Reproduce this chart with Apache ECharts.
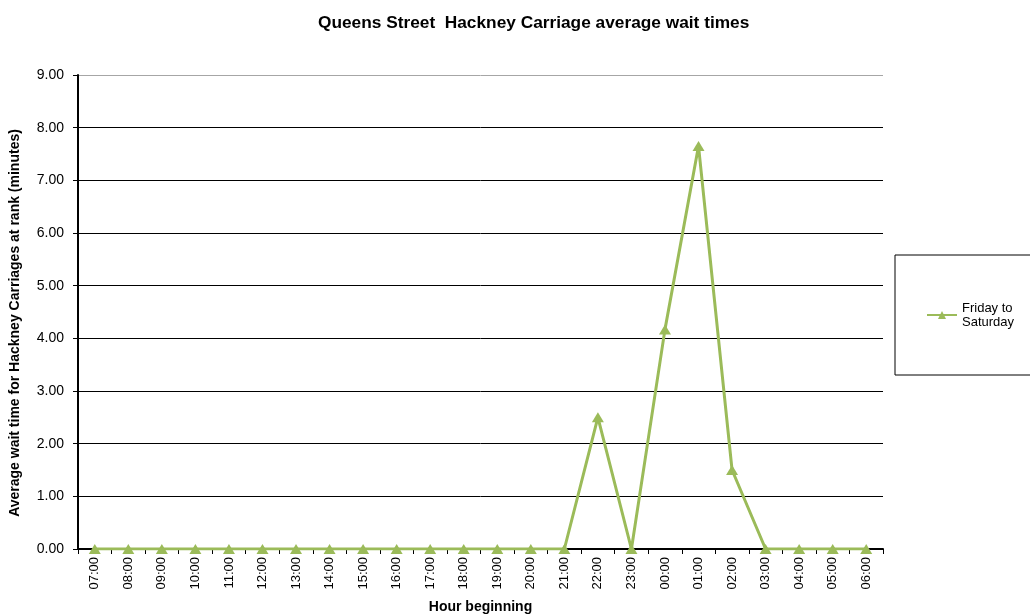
<!DOCTYPE html>
<html>
<head>
<meta charset="utf-8">
<script src="https://cdn.jsdelivr.net/npm/echarts@6/dist/echarts.min.js"></script>
<style>
  html, body { margin: 0; padding: 0; background: #fff; }
  #chart { width: 1030px; height: 616px; }
</style>
</head>
<body>
<div id="chart"></div>
<script>
// hours on the x axis
const hours = ['07:00', '08:00', '09:00', '10:00', '11:00', '12:00', '13:00', '14:00',
  '15:00', '16:00', '17:00', '18:00', '19:00', '20:00', '21:00', '22:00',
  '23:00', '00:00', '01:00', '02:00', '03:00', '04:00', '05:00', '06:00'];

// average wait (minutes), Friday to Saturday
const fridayToSaturday = [0, 0, 0, 0, 0, 0, 0, 0,
  0, 0, 0, 0, 0, 0, 0, 2.5,
  0, 4.17, 7.65, 1.5, 0, 0, 0, 0];

const seriesName = 'Friday to\nSaturday';

const chart = echarts.init(document.getElementById('chart'));
const font = 'Liberation Sans, Arial, sans-serif';

// last grid line (9.00) is grey, the rest black
const gridColors = ['#000', '#000', '#000', '#000', '#000', '#000', '#000', '#000', '#000', '#a6a6a6'];

const option = {
  animation: false,
  textStyle: { fontFamily: font },
  title: {
    text: 'Queens Street  Hackney Carriage average wait times',
    left: 313,
    top: 10,
    textStyle: { fontSize: 17.3, fontWeight: 'bold', color: '#000', fontFamily: font }
  },
  legend: {
    left: 895,
    top: 255,
    orient: 'vertical',
    padding: [46, 40, 46, 31],
    borderColor: '#000',
    borderWidth: 1,
    itemWidth: 30,
    itemHeight: 10,
    itemGap: 0,
    textStyle: { fontSize: 13, color: '#000', fontFamily: font, lineHeight: 14 },
    data: [seriesName]
  },
  grid: {
    left: 78,
    right: 147,
    top: 75,
    bottom: 67,
    outerBoundsMode: 'none'
  },
  xAxis: {
    type: 'category',
    data: hours,
    boundaryGap: true,
    name: 'Hour beginning',
    nameLocation: 'middle',
    nameGap: 51,
    nameTextStyle: { fontSize: 14, fontWeight: 'bold', color: '#000' },
    axisLine: { lineStyle: { color: '#000', width: 2 } },
    axisTick: { show: true, inside: false, length: 5, lineStyle: { color: '#000' } },
    axisLabel: { rotate: 90, fontSize: 13, color: '#000', margin: 8 },
    splitLine: { show: false }
  },
  yAxis: {
    type: 'value',
    min: 0,
    max: 9,
    interval: 1,
    name: 'Average wait time for Hackney Carriages at rank (minutes)',
    nameLocation: 'middle',
    nameGap: 56,
    nameTextStyle: { fontSize: 14, fontWeight: 'bold', color: '#000', padding: [0, 22, 0, 0] },
    axisLine: { show: true, lineStyle: { color: '#000', width: 2 } },
    axisTick: { show: true, inside: false, length: 5, lineStyle: { color: '#000' } },
    axisLabel: {
      fontSize: 14,
      color: '#000',
      margin: 14,
      formatter: v => v.toFixed(2)
    },
    splitLine: { show: true, lineStyle: { color: gridColors, width: 1 } }
  },
  series: [{
    name: seriesName,
    type: 'line',
    data: fridayToSaturday,
    symbol: 'triangle',
    symbolSize: [12, 10],
    itemStyle: { color: '#9bbb59' },
    lineStyle: { color: '#9bbb59', width: 3 }
  }]
};

chart.setOption(option);
</script>
</body>
</html>
